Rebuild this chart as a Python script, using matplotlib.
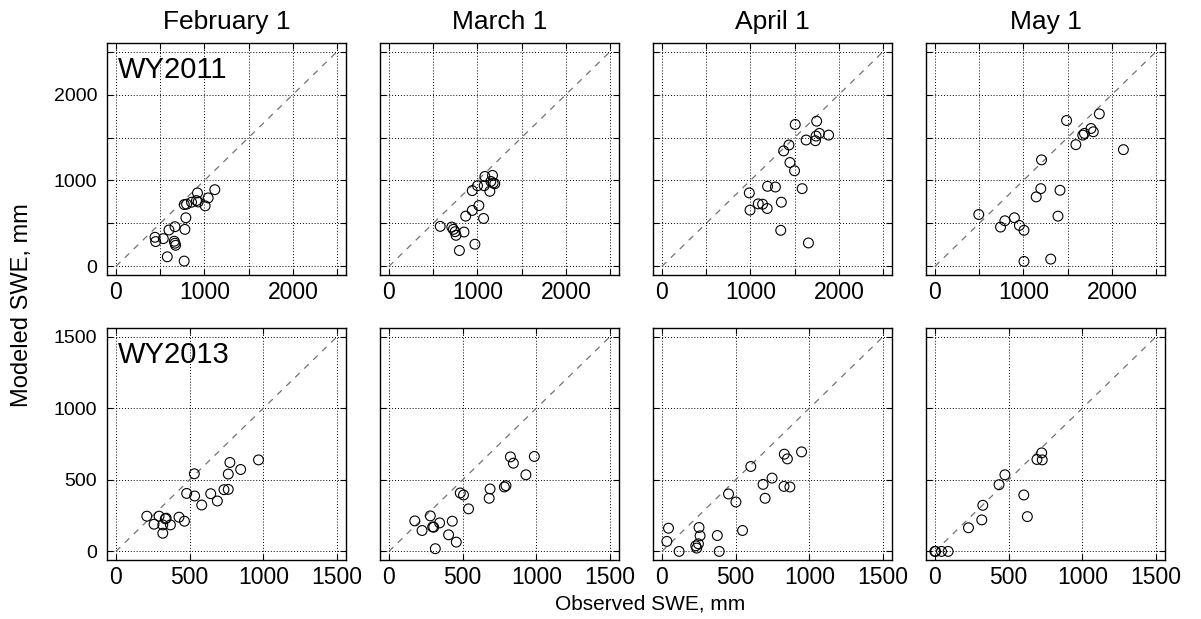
import matplotlib
matplotlib.use("Agg")
from matplotlib import pyplot as plt

plt.rcParams['font.family'] = ['Liberation Sans', 'DejaVu Sans']

dates = ['February 1', 'March 1', 'April 1', 'May 1']
years = ['WY2011', 'WY2013']

# WY2011 observed / modeled SWE (mm)
feb_2011_obs = [1118, 922, 911, 930, 1043, 1009, 855, 773, 799, 791, 668, 600, 780, 442, 536, 450, 660, 668, 675, 581, 772]
feb_2011_mod = [893, 855, 766, 750, 797, 705, 747, 720, 724, 566, 462, 424, 431, 339, 323, 289, 293, 270, 246, 112, 62]

mar_2011_obs = [1085, 1171, 1152, 1197, 1178, 1002, 942, 1141, 1017, 942, 868, 1070, 580, 711, 729, 748, 759, 849, 972, 797, 1077]
mar_2011_mod = [1047, 1059, 989, 963, 970, 939, 882, 874, 708, 651, 585, 558, 466, 458, 431, 404, 362, 400, 258, 185, 939]

apr_2011_obs = [1507, 1749, 1779, 1742, 1735, 1884, 1630, 1436, 1376, 1447, 1499, 1585, 1194, 1283, 988, 1089, 1138, 1190, 996, 1350, 1343, 1656]
apr_2011_mod = [1652, 1690, 1548, 1517, 1463, 1528, 1471, 1413, 1344, 1209, 1113, 905, 932, 924, 855, 728, 724, 674, 655, 747, 420, 273]

may_2011_obs = [1488, 1858, 1764, 1790, 1690, 1671, 1593, 2130, 1205, 1197, 1145, 1414, 1391, 496, 742, 791, 899, 955, 1007, 1007, 1309]
may_2011_mod = [1698, 1775, 1605, 1567, 1548, 1528, 1417, 1359, 1240, 905, 809, 886, 585, 604, 458, 531, 566, 477, 420, 58, 85]

# WY2013 observed / modeled SWE (mm)
feb_2013_obs = [967, 773, 846, 762, 532, 480, 534, 643, 582, 688, 733, 762, 210, 293, 341, 335, 259, 318, 370, 428, 465, 318]
feb_2013_mod = [639, 621, 572, 540, 542, 405, 387, 403, 324, 352, 431, 433, 246, 246, 232, 228, 190, 185, 185, 239, 211, 127]

mar_2013_obs = [986, 824, 844, 929, 686, 680, 783, 794, 484, 506, 540, 176, 281, 344, 297, 304, 225, 430, 405, 457, 315]
mar_2013_mod = [663, 660, 616, 535, 436, 371, 450, 459, 408, 394, 297, 213, 248, 199, 171, 169, 146, 211, 116, 65, 19]

apr_2013_obs = [947, 830, 851, 603, 747, 686, 828, 868, 700, 452, 502, 547, 45, 34, 252, 259, 248, 230, 236, 376, 389, 117]
apr_2013_mod = [695, 679, 646, 593, 512, 468, 454, 450, 371, 401, 345, 146, 162, 70, 167, 109, 53, 39, 23, 111, 0, 0]

may_2013_obs = [724, 692, 728, 475, 435, 603, 627, 325, 318, 228, 0, 5, 45, 90]
may_2013_mod = [688, 642, 639, 535, 466, 394, 243, 322, 220, 165, 0, 0, 0, 0]

panels = [
    [(feb_2011_obs, feb_2011_mod), (mar_2011_obs, mar_2011_mod),
     (apr_2011_obs, apr_2011_mod), (may_2011_obs, may_2011_mod)],
    [(feb_2013_obs, feb_2013_mod), (mar_2013_obs, mar_2013_mod),
     (apr_2013_obs, apr_2013_mod), (may_2013_obs, may_2013_mod)],
]

W, H = 1201, 619
fig = plt.figure(figsize=(W / 100, H / 100), dpi=100)

col_left = [107, 380, 653, 926]
row_top = [43, 328]
ax_w, ax_h = 239, 232

for r in range(2):
    if r == 0:
        lim = (-100, 2600)
        ticks = [0, 500, 1000, 1500, 2000, 2500]
        labels = ['0', '', '1000', '', '2000', '']
        line_end = 2500
    else:
        lim = (-60, 1560)
        ticks = [0, 500, 1000, 1500]
        labels = ['0', '500', '1000', '1500']
        line_end = 1500
    for c in range(4):
        left = col_left[c] / W
        bottom = (H - row_top[r] - ax_h) / H
        ax = fig.add_axes([left, bottom, ax_w / W, ax_h / H])
        obs, mod = panels[r][c]
        ax.plot([0, line_end], [0, line_end], linestyle=(0, (5, 5)), color='0.45', lw=0.9, zorder=2)
        ax.scatter(obs, mod, s=50, facecolors='none', edgecolors='black', linewidths=0.8, zorder=3)
        ax.set_xlim(lim)
        ax.set_ylim(lim)
        ax.set_xticks(ticks)
        ax.set_yticks(ticks)
        ax.set_xticklabels(labels)
        if c == 0:
            ax.set_yticklabels(labels)
        else:
            ax.set_yticklabels([])
        ax.grid(True, linestyle=(0, (1, 2)), color='black', lw=0.7)
        ax.tick_params(direction='in', top=True, right=True, length=4, width=0.8)
        ax.tick_params(axis='x', labelsize=16.5, pad=4)
        ax.tick_params(axis='y', labelsize=14, pad=7)
        for sp in ax.spines.values():
            sp.set_linewidth(1.0)
        if r == 0:
            ax.set_title(dates[c], fontsize=19, pad=10)
        if c == 0:
            ax.text(0.045, 0.945, years[r], transform=ax.transAxes, fontsize=21, va='top', ha='left')

fig.text(22 / W, 1 - 305 / H, 'Modeled SWE, mm', rotation=90, fontsize=17, ha='center', va='center')
fig.text(650 / W, 1 - 604 / H, 'Observed SWE, mm', fontsize=15, ha='center', va='center')

fig.savefig('out.png', dpi=100)
